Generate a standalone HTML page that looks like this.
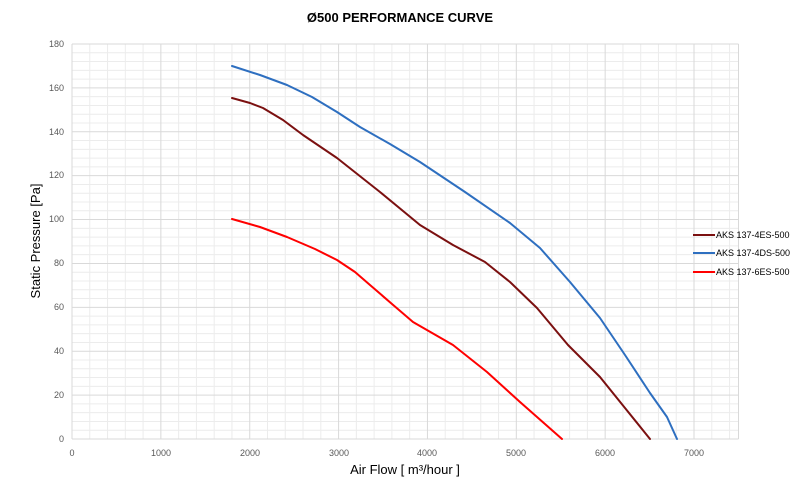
<!DOCTYPE html>
<html><head><meta charset="utf-8"><style>
body{margin:0;background:#fff;}
svg{display:block;font-family:"Liberation Sans",sans-serif;}
</style></head><body>
<svg width="800" height="480" viewBox="0 0 800 480">
<rect width="800" height="480" fill="#fff"/>
<g id="minor" stroke="#ececec" stroke-width="1"></g>
<g id="major" stroke="#d9d9d9" stroke-width="1"></g>
<script>
(function(){
var ns="http://www.w3.org/2000/svg",mi=document.getElementById('minor'),ma=document.getElementById('major');
function ln(g,x1,y1,x2,y2){var l=document.createElementNS(ns,'line');l.setAttribute('x1',x1);l.setAttribute('y1',y1);l.setAttribute('x2',x2);l.setAttribute('y2',y2);g.appendChild(l);}
var x0=72,sx=88.86/1000,y0=439,sy=395/180;
for(var v=0;v<=7500;v+=200){var x=x0+v*sx;ln(v%1000==0?ma:mi,x,44,x,439);}
ln(ma,738.5,44,738.5,439);
for(var p=0;p<=180;p+=4){var y=y0-p*sy;ln(p%20==0?ma:mi,72,y,738.5,y);}
})();
</script>
<g font-size="9" fill="#595959" text-anchor="end">
<text x="64" y="442">0</text><text x="64" y="398">20</text><text x="64" y="354">40</text><text x="64" y="310">60</text><text x="64" y="266">80</text><text x="64" y="222">100</text><text x="64" y="178">120</text><text x="64" y="135">140</text><text x="64" y="91">160</text><text x="64" y="47">180</text>
</g>
<g font-size="9" fill="#595959" text-anchor="middle">
<text x="72" y="456">0</text><text x="161" y="456">1000</text><text x="250" y="456">2000</text><text x="339" y="456">3000</text><text x="427" y="456">4000</text><text x="516" y="456">5000</text><text x="605" y="456">6000</text><text x="694" y="456">7000</text>
</g>
<text x="400" y="22" font-size="13" font-weight="bold" text-anchor="middle" fill="#000">Ø500 PERFORMANCE CURVE</text>
<text x="405" y="474" font-size="13" text-anchor="middle" fill="#000">Air Flow [ m³/hour ]</text>
<text transform="translate(40,241) rotate(-90)" font-size="13" text-anchor="middle" fill="#000">Static Pressure [Pa]</text>
<g fill="none" stroke-width="2" stroke-linejoin="round" stroke-linecap="round">
<path stroke="#2e6fc0" d="M232,66 L260,75 L287,85 L312,97 L337,112 L360,127 L390,144 L420,162 L465,192 L510,223 L540,248 L570,282 L600,318 L625,355 L650,393 L667,417 L677,439"/>
<path stroke="#7b1010" d="M232,98 L250,103 L263,108 L283,120 L303,135 L337,158 L380,192 L420,225 L453,245 L485,262 L510,282 L537,308 L568,345 L600,377 L625,408 L650,439"/>
<path stroke="#ff0000" d="M232,219 L260,227 L287,237 L315,249 L337,260 L355,272 L370,285 L392,304 L413,322 L453,345 L487,372 L520,402 L562,439"/>
</g>
<g font-size="9" fill="#000">
<line x1="693" y1="235" x2="715" y2="235" stroke="#7b1010" stroke-width="2"/><text x="716" y="238">AKS 137-4ES-500</text>
<line x1="693" y1="253" x2="715" y2="253" stroke="#2e6fc0" stroke-width="2"/><text x="716" y="256">AKS 137-4DS-500</text>
<line x1="693" y1="272" x2="715" y2="272" stroke="#ff0000" stroke-width="2"/><text x="716" y="275">AKS 137-6ES-500</text>
</g>
</svg>
</body></html>
